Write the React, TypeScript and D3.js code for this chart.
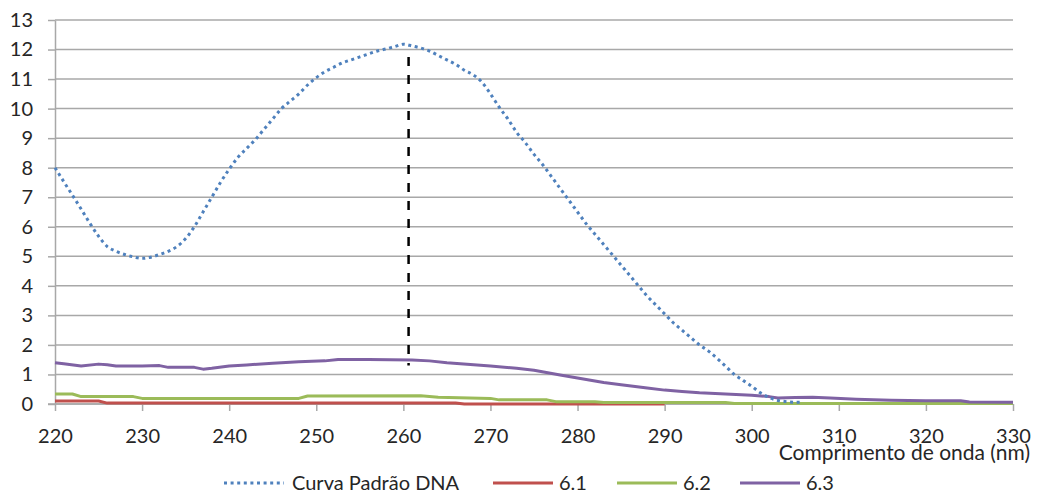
import React, { useEffect, useRef } from 'react';
import * as d3 from 'd3';

// wavelength (nm) / absorbance
const curvaDNA: [number, number][] = [
  [220, 8.0], [221, 7.53], [222, 7.07], [223, 6.6], [224, 6.12], [225, 5.68], [226, 5.33],
  [227, 5.17], [228, 5.06], [229, 4.98], [230, 4.93], [231, 4.97], [232, 5.06], [233, 5.17],
  [234, 5.33], [235, 5.6], [236, 6.0], [237, 6.5], [238, 7.0], [239, 7.5], [240, 7.95],
  [241, 8.35], [242, 8.65], [243, 8.95], [244, 9.3], [245, 9.65], [246, 10.0], [247, 10.25],
  [248, 10.5], [249, 10.8], [250, 11.05], [251, 11.25], [252, 11.4], [253, 11.55], [254, 11.65],
  [255, 11.75], [256, 11.85], [257, 11.95], [258, 12.02], [259, 12.1], [260, 12.18],
  [261, 12.12], [262, 12.05], [263, 11.95], [264, 11.8], [265, 11.65], [266, 11.5], [267, 11.3],
  [268, 11.15], [269, 10.9], [270, 10.5], [271, 10.05], [272, 9.65], [273, 9.2], [274, 8.85],
  [275, 8.45], [276, 8.1], [277, 7.7], [278, 7.3], [279, 6.9], [280, 6.5], [281, 6.1],
  [282, 5.75], [283, 5.4], [284, 5.05], [285, 4.7], [286, 4.35], [287, 4.0], [288, 3.65],
  [289, 3.35], [290, 3.05], [291, 2.75], [292, 2.5], [293, 2.25], [294, 2.0], [295, 1.8],
  [296, 1.55], [297, 1.28], [298, 1.0], [299, 0.8], [300, 0.6], [301, 0.38], [302, 0.22],
  [303, 0.12], [304, 0.08], [305, 0.06], [305.7, 0.06],
];

const amostra61: [number, number][] = [
  [220, 0.1], [225, 0.1], [226, 0.03], [266, 0.03], [267, 0.0], [290, 0.0],
];

const amostra62: [number, number][] = [
  [220, 0.34], [222, 0.34], [223, 0.25], [229, 0.25], [230, 0.19], [248, 0.19], [249, 0.27],
  [262, 0.28], [264, 0.23], [270, 0.19], [271, 0.14], [276.5, 0.14], [277.5, 0.08], [282, 0.08],
  [283, 0.05], [297, 0.05], [298, 0.02], [330, 0.02],
];

const amostra63: [number, number][] = [
  [220, 1.4], [221, 1.36], [223, 1.29], [225, 1.35], [226, 1.33], [227, 1.29], [230, 1.29],
  [232, 1.3], [233, 1.24], [236, 1.24], [237, 1.18], [238, 1.21], [240, 1.29], [242, 1.32],
  [245, 1.38], [248, 1.43], [251, 1.46], [252.5, 1.51], [256, 1.51], [261, 1.49], [263, 1.46],
  [265, 1.4], [270, 1.29], [273, 1.21], [275, 1.14], [278, 0.98], [280, 0.88], [283, 0.73],
  [285, 0.65], [288, 0.54], [290, 0.47], [292, 0.42], [294, 0.38], [297, 0.34], [300, 0.3],
  [302, 0.25], [303, 0.2], [305, 0.22], [307, 0.23], [309, 0.2], [312, 0.16], [316, 0.13],
  [320, 0.11], [324, 0.11], [325, 0.07], [330, 0.06],
];

// peak marker (dashed vertical line)
const picoWl = 260.6;
const picoRange = [1.3, 11.75];

const xTicks = [220, 230, 240, 250, 260, 270, 280, 290, 300, 310, 320, 330];
const yTicks = [0, 1, 2, 3, 4, 5, 6, 7, 8, 9, 10, 11, 12, 13];
const seriesNames = ['Curva Padrão DNA', '6.1', '6.2', '6.3'];
const xTitle = 'Comprimento de onda (nm)';

export default function App() {
  const ref = useRef<SVGSVGElement>(null);

  useEffect(() => {
    document.body.style.margin = '0';
    const svg = d3.select(ref.current);
    svg.selectAll('*').remove();

    const font = 'Lato, "Open Sans", sans-serif';
    const textColor = '#262626';
    const left = 55, right = 1013, top = 20, bottom = 404;

    const x = d3.scaleLinear().domain([220, 330]).range([left, right]);
    const y = d3.scaleLinear().domain([0, 13]).range([bottom, top]);

    //gridlines
    svg.append('g')
      .selectAll('line')
      .data(yTicks)
      .enter()
      .append('line')
      .attr('x1', left)
      .attr('x2', right)
      .attr('y1', d => y(d))
      .attr('y2', d => y(d))
      .attr('stroke', '#a8a8a8')
      .attr('stroke-width', 1.5);

    //axes
    const yAxis = d3.axisLeft(y).tickValues(yTicks).tickSize(7).tickSizeOuter(0).tickPadding(15);
    const xAxis = d3.axisBottom(x).tickValues(xTicks).tickSize(7).tickSizeOuter(0).tickPadding(18);

    const yAxisGroup = svg.append('g').attr('transform', `translate(${left},0)`).call(yAxis);
    const xAxisGroup = svg.append('g').attr('transform', `translate(0,${bottom})`).call(xAxis);

    [yAxisGroup, xAxisGroup].forEach(g => {
      g.select('.domain').attr('stroke', '#a8a8a8').attr('stroke-width', 1.5);
      g.selectAll('.tick line').attr('stroke', '#a8a8a8').attr('stroke-width', 1.5);
      g.selectAll('.tick text')
        .attr('fill', textColor)
        .style('font-family', font)
        .style('font-size', '20px');
    });

    xAxisGroup.select('.domain').remove();
    svg.append('line')
      .attr('x1', left - 7).attr('x2', right)
      .attr('y1', bottom).attr('y2', bottom)
      .attr('stroke', '#a8a8a8').attr('stroke-width', 1.5);

    svg.append('text')
      .attr('x', 1030)
      .attr('y', 460)
      .attr('text-anchor', 'end')
      .attr('fill', textColor)
      .style('font-family', font)
      .style('font-size', '21px')
      .text(xTitle);

    //lines
    const colors = ['#4f81bd', '#c0504d', '#9bbb59', '#7f62a3'];
    const line = d3.line<[number, number]>().x(d => x(d[0])).y(d => y(d[1]));
    const smooth = d3.line<[number, number]>().x(d => x(d[0])).y(d => y(d[1])).curve(d3.curveMonotoneX);

    [amostra61, amostra62, amostra63].forEach((data, i) => {
      svg.append('path')
        .datum(data)
        .attr('d', line)
        .attr('fill', 'none')
        .attr('stroke', colors[i + 1])
        .attr('stroke-width', 3)
        .attr('stroke-linejoin', 'round');
    });

    svg.append('path')
      .datum(curvaDNA)
      .attr('d', smooth)
      .attr('fill', 'none')
      .attr('stroke', colors[0])
      .attr('stroke-width', 3)
      .attr('stroke-dasharray', '3 3.6');

    svg.append('line')
      .attr('x1', x(picoWl)).attr('x2', x(picoWl))
      .attr('y1', y(picoRange[1])).attr('y2', y(picoRange[0]))
      .attr('stroke', '#000')
      .attr('stroke-width', 2.5)
      .attr('stroke-dasharray', '9 9');

    //legend
    const legendX = [224, 493, 617, 740];
    const legend = svg.append('g')
      .selectAll('g')
      .data(seriesNames)
      .enter()
      .append('g')
      .attr('transform', (d, i) => `translate(${legendX[i]},483)`);

    legend.append('line')
      .attr('x1', 0).attr('x2', 60)
      .attr('stroke', (d, i) => colors[i])
      .attr('stroke-width', 3)
      .attr('stroke-dasharray', (d, i) => (i === 0 ? '3 3.6' : null));

    legend.append('text')
      .attr('x', (d, i) => (i === 0 ? 68 : 66))
      .attr('y', 7)
      .attr('fill', textColor)
      .style('font-family', font)
      .style('font-size', '20px')
      .text(d => d);
  }, []);

  return <svg ref={ref} width={1038} height={494} style={{ display: 'block', background: '#fff' }} />;
}
